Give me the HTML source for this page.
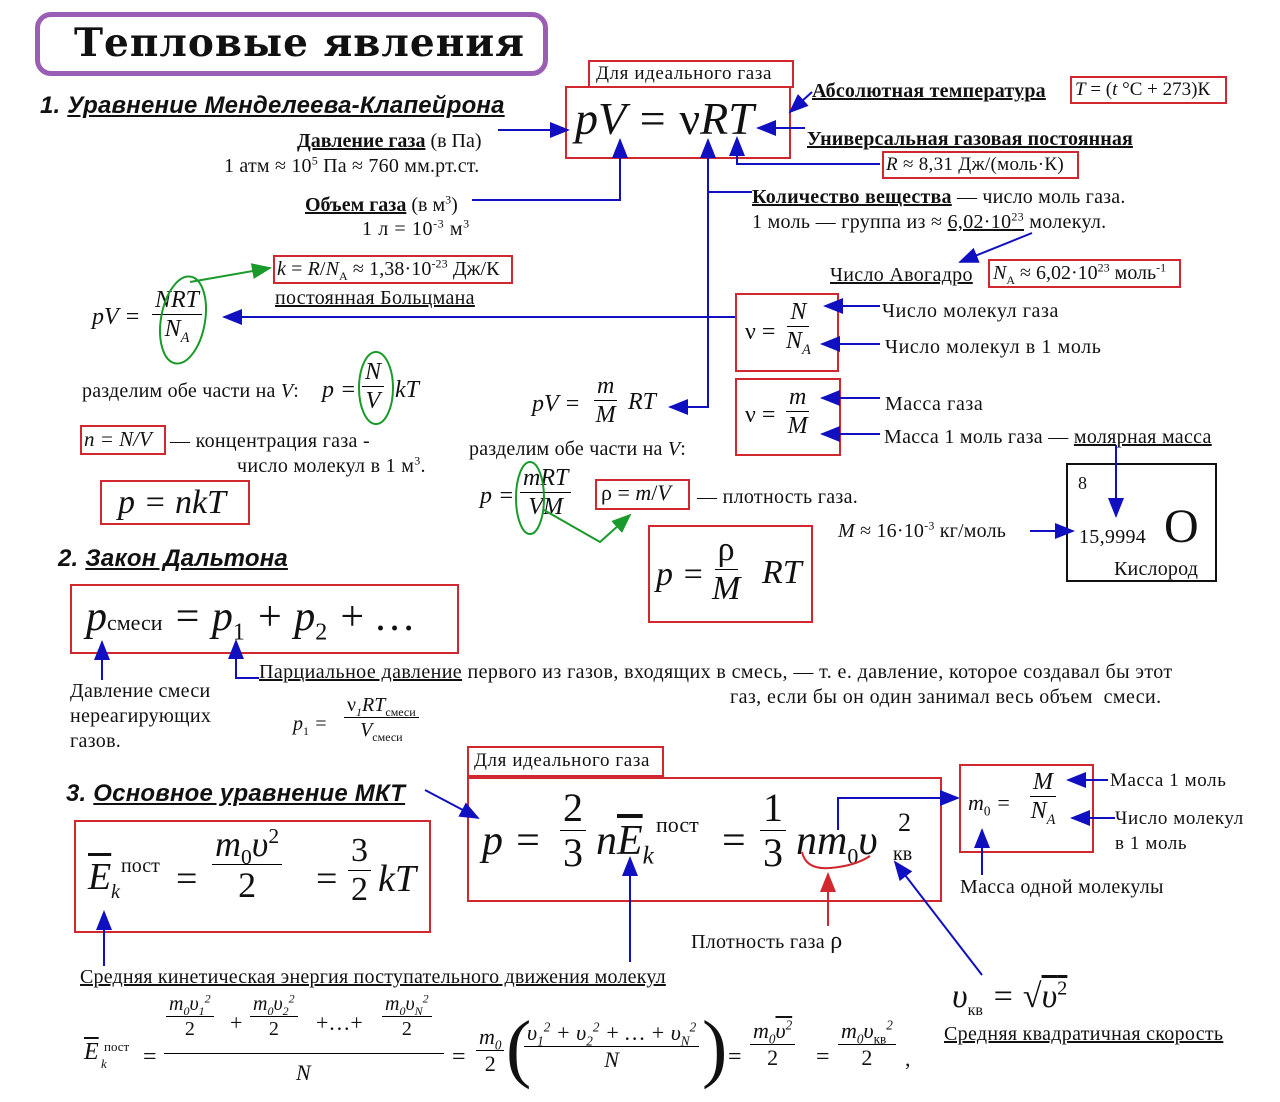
<!DOCTYPE html>
<html><head><meta charset="utf-8">
<style>
body{margin:0;background:#fff;width:1280px;height:1102px;position:relative;overflow:hidden;font-family:"Liberation Serif","DejaVu Serif",serif;color:#111}
.t{position:absolute;white-space:nowrap;line-height:1}
.s{font-size:20px;letter-spacing:0.6px}
.b{position:absolute;border:2px solid #d0282e;box-sizing:border-box}
.h{font-family:"Liberation Sans",sans-serif;font-weight:bold;font-style:italic;font-size:24px;letter-spacing:0.2px}
.u{text-decoration:underline}
.i{font-style:italic}
.fr{position:absolute;display:flex;flex-direction:column;align-items:center;line-height:1}
.fr>span:first-child{border-bottom:1.5px solid #000;padding:0 3px 2px}
.fr>span:last-child{padding-top:2px}
sub,sup{font-size:0.6em;line-height:0}
svg{position:absolute;left:0;top:0}
</style></head><body>

<!-- title -->
<div style="position:absolute;left:35px;top:12px;width:513px;height:64px;border:5px solid #9a5fb4;border-radius:16px;box-sizing:border-box"></div>
<div class="t" style="left:74px;top:24px;font-size:39px;font-weight:bold;font-family:'DejaVu Serif',serif;letter-spacing:1px">Тепловые явления</div>

<div class="t h" style="left:40px;top:94px">1. <span class="u">Уравнение Менделеева-Клапейрона</span></div>

<div class="b" style="left:588px;top:60px;width:206px;height:28px"></div>
<div class="t s" style="left:596px;top:64px;font-size:19px">Для идеального газа</div>
<div class="b" style="left:565px;top:86px;width:226px;height:73px"></div>
<div class="t i" style="left:575px;top:96px;font-size:46px">pV = <span style="font-style:normal">ν</span>RT</div>

<div class="t u s" style="left:812px;top:81px;font-weight:bold;letter-spacing:0.2px">Абсолютная температура</div>
<div class="b" style="left:1070px;top:76px;width:157px;height:28px"></div>
<div class="t" style="left:1075px;top:80px;font-size:19px"><i>T</i> = (<i>t</i> °С + 273)К</div>

<div class="t u s" style="left:807px;top:129px;font-weight:bold;letter-spacing:0.1px">Универсальная газовая постоянная</div>
<div class="b" style="left:882px;top:151px;width:197px;height:28px"></div>
<div class="t" style="left:886px;top:155px;font-size:19px;letter-spacing:0.3px"><i>R</i> ≈ 8,31 Дж/(моль·К)</div>

<div class="t s" style="left:297px;top:131px;letter-spacing:0"><b class="u">Давление газа</b> (в Па)</div>
<div class="t s" style="left:224px;top:156px;letter-spacing:0.2px">1 атм ≈ 10<sup>5</sup> Па ≈ 760 мм.рт.ст.</div>
<div class="t s" style="left:305px;top:195px;letter-spacing:0"><b class="u">Объем газа</b> (в м<sup>3</sup>)</div>
<div class="t s" style="left:362px;top:219px">1 л = 10<sup>-3</sup> м<sup>3</sup></div>

<div class="t s" style="left:752px;top:187px;letter-spacing:0.2px"><b class="u">Количество вещества</b> — число моль газа.</div>
<div class="t s" style="left:752px;top:212px;letter-spacing:0.3px">1 моль — группа из ≈ <span class="u">6,02·10<sup>23</sup></span> молекул.</div>

<div class="t u s" style="left:830px;top:265px;letter-spacing:0.3px">Число Авогадро</div>
<div class="b" style="left:988px;top:259px;width:193px;height:29px"></div>
<div class="t" style="left:993px;top:263px;font-size:20px"><i>N</i><sub>A</sub> ≈ 6,02·10<sup>23</sup> моль<sup>-1</sup></div>

<div class="b" style="left:273px;top:255px;width:240px;height:29px"></div>
<div class="t" style="left:277px;top:259px;font-size:20px;letter-spacing:0.1px"><i>k</i> = <i>R</i>/<i>N</i><sub>A</sub> ≈ 1,38·10<sup>-23</sup> Дж/К</div>
<div class="t u s" style="left:275px;top:288px;letter-spacing:0.3px">постоянная Больцмана</div>

<div class="t i" style="left:92px;top:305px;font-size:24px">pV =</div>
<div class="fr i" style="left:152px;top:288px;font-size:24px"><span>NRT</span><span>N<sub>A</sub></span></div>

<div class="b" style="left:735px;top:293px;width:104px;height:79px"></div>
<div class="t" style="left:745px;top:320px;font-size:24px">ν =</div>
<div class="fr i" style="left:786px;top:300px;font-size:24px"><span>N</span><span>N<sub>A</sub></span></div>
<div class="t s" style="left:882px;top:301px">Число молекул газа</div>
<div class="t s" style="left:885px;top:337px">Число молекул в 1 моль</div>

<div class="b" style="left:735px;top:378px;width:106px;height:78px"></div>
<div class="t" style="left:745px;top:403px;font-size:24px">ν =</div>
<div class="fr i" style="left:786px;top:385px;font-size:24px"><span>m</span><span>M</span></div>
<div class="t s" style="left:885px;top:394px">Масса газа</div>
<div class="t s" style="left:884px;top:427px;letter-spacing:0.3px">Масса 1 моль газа — <span class="u">молярная масса</span></div>

<div class="t s" style="left:82px;top:381px;letter-spacing:0.2px">разделим обе части на <i>V</i>:</div>
<div class="t i" style="left:322px;top:378px;font-size:24px">p =</div>
<div class="fr i" style="left:362px;top:360px;font-size:24px"><span>N</span><span>V</span></div>
<div class="t i" style="left:395px;top:378px;font-size:24px">kT</div>

<div class="b" style="left:80px;top:425px;width:86px;height:30px"></div>
<div class="t i" style="left:84px;top:429px;font-size:21px">n = N/V</div>
<div class="t s" style="left:170px;top:431px;letter-spacing:0.3px">— концентрация газа -</div>
<div class="t s" style="left:237px;top:456px;letter-spacing:0.3px">число молекул в 1 м<sup>3</sup>.</div>

<div class="b" style="left:100px;top:480px;width:150px;height:45px"></div>
<div class="t i" style="left:118px;top:486px;font-size:34px">p = nkT</div>

<div class="t i" style="left:532px;top:392px;font-size:24px">pV =</div>
<div class="fr i" style="left:594px;top:374px;font-size:24px"><span>m</span><span>M</span></div>
<div class="t i" style="left:628px;top:390px;font-size:24px">RT</div>
<div class="t s" style="left:469px;top:439px;letter-spacing:0.2px">разделим обе части на <i>V</i>:</div>
<div class="t i" style="left:480px;top:484px;font-size:24px">p =</div>
<div class="fr i" style="left:520px;top:466px;font-size:24px"><span>mRT</span><span>VM</span></div>
<div class="b" style="left:595px;top:479px;width:95px;height:31px"></div>
<div class="t" style="left:601px;top:482px;font-size:22px">ρ = <i>m</i>/<i>V</i></div>
<div class="t s" style="left:697px;top:487px;letter-spacing:0.3px">— плотность газа.</div>

<div class="b" style="left:648px;top:525px;width:165px;height:98px"></div>
<div class="t i" style="left:656px;top:558px;font-size:34px">p =</div>
<div class="fr i" style="left:712px;top:533px;font-size:34px"><span style="font-style:normal">ρ</span><span>M</span></div>
<div class="t i" style="left:762px;top:556px;font-size:34px">RT</div>

<div class="t s" style="left:838px;top:521px;letter-spacing:0.2px"><i>M</i> ≈ 16·10<sup>-3</sup> кг/моль</div>
<div style="position:absolute;left:1066px;top:463px;width:151px;height:119px;border:2px solid #111;box-sizing:border-box"></div>
<div class="t" style="left:1078px;top:474px;font-size:18px">8</div>
<div class="t s" style="left:1079px;top:527px;letter-spacing:0.3px">15,9994</div>
<div class="t" style="left:1164px;top:503px;font-size:48px">O</div>
<div class="t s" style="left:1114px;top:559px;letter-spacing:0.2px">Кислород</div>

<div class="t h" style="left:58px;top:547px">2. <span class="u">Закон Дальтона</span></div>
<div class="b" style="left:70px;top:584px;width:389px;height:70px"></div>
<div class="t i" style="left:86px;top:596px;font-size:42px">p<span style="font-style:normal;font-size:22px">смеси</span> = p<sub style="font-size:24px;font-style:normal">1</sub> + p<sub style="font-size:24px;font-style:normal">2</sub> + …</div>

<div class="t s" style="left:70px;top:679px;line-height:25px;letter-spacing:0.3px">Давление смеси<br>нереагирующих<br>газов.</div>
<div class="t s" style="left:259px;top:662px;letter-spacing:0.4px"><span class="u">Парциальное давление</span> первого из газов, входящих в смесь, — т. е. давление, которое создавал бы этот</div>
<div class="t s" style="left:730px;top:687px;letter-spacing:0.4px">газ, если бы он один занимал весь объем&nbsp; смеси.</div>
<div class="t i" style="left:293px;top:714px;font-size:20px">p<sub style="font-style:normal">1</sub> =</div>
<div class="fr i" style="left:344px;top:695px;font-size:20px"><span><span style="font-style:normal">ν</span><sub>1</sub>RT<sub style="font-style:normal">смеси</sub></span><span>V<sub style="font-style:normal">смеси</sub></span></div>

<div class="t h" style="left:66px;top:782px">3. <span class="u">Основное уравнение МКТ</span></div>
<div class="b" style="left:467px;top:746px;width:197px;height:31px"></div>
<div class="t s" style="left:474px;top:751px;font-size:19px">Для идеального газа</div>
<div class="b" style="left:467px;top:777px;width:475px;height:125px"></div>
<div class="t i" style="left:482px;top:820px;font-size:42px">p =</div>
<div class="fr" style="left:560px;top:788px;font-size:40px"><span>2</span><span>3</span></div>
<div class="t i" style="left:596px;top:820px;font-size:42px">n<span style="text-decoration:overline">E</span><sub>k</sub></div>
<div class="t" style="left:656px;top:814px;font-size:22px">пост</div>
<div class="t" style="left:722px;top:820px;font-size:42px">=</div>
<div class="fr" style="left:760px;top:788px;font-size:40px"><span>1</span><span>3</span></div>
<div class="t i" style="left:796px;top:820px;font-size:42px">nm<sub style="font-style:normal;font-size:22px">0</sub>υ</div>
<div class="t" style="left:898px;top:810px;font-size:26px">2</div>
<div class="t" style="left:893px;top:844px;font-size:20px">кв</div>

<div class="b" style="left:74px;top:820px;width:357px;height:113px"></div>
<div class="t i" style="left:88px;top:858px;font-size:38px;text-decoration:overline">E</div>
<div class="t" style="left:121px;top:856px;font-size:20px">пост</div>
<div class="t i" style="left:111px;top:882px;font-size:20px">k</div>
<div class="t" style="left:176px;top:860px;font-size:38px">=</div>
<div class="fr i" style="left:212px;top:826px;font-size:36px"><span>m<sub style="font-style:normal">0</sub>υ<sup style="font-style:normal">2</sup></span><span style="font-style:normal">2</span></div>
<div class="t" style="left:316px;top:860px;font-size:38px">=</div>
<div class="fr" style="left:348px;top:834px;font-size:34px"><span>3</span><span>2</span></div>
<div class="t i" style="left:378px;top:860px;font-size:38px">kT</div>

<div class="b" style="left:959px;top:764px;width:135px;height:89px"></div>
<div class="t i" style="left:968px;top:792px;font-size:22px">m<sub style="font-style:normal">0</sub> =</div>
<div class="fr i" style="left:1030px;top:770px;font-size:24px"><span>M</span><span>N<sub>A</sub></span></div>
<div class="t s" style="left:1110px;top:771px;font-size:19px">Масса 1 моль</div>
<div class="t s" style="left:1115px;top:806px;line-height:25px;font-size:19px">Число молекул<br>в 1 моль</div>
<div class="t s" style="left:960px;top:877px;letter-spacing:0.3px">Масса одной молекулы</div>
<div class="t s" style="left:691px;top:929px;letter-spacing:0.3px">Плотность газа <span style="font-size:24px">ρ</span></div>
<div class="t u s" style="left:80px;top:967px;letter-spacing:0.2px">Средняя кинетическая энергия поступательного движения молекул</div>

<div class="t i" style="left:952px;top:980px;font-size:34px">υ<sub style="font-style:normal;font-size:16px">кв</sub> = <span style="font-style:normal">√</span><span style="text-decoration:overline">υ<sup style="font-style:normal">2</sup></span></div>
<div class="t u s" style="left:944px;top:1024px;letter-spacing:0.3px">Средняя квадратичная скорость</div>

<!-- bottom formula -->
<div class="t i" style="left:84px;top:1040px;font-size:24px;text-decoration:overline">E</div>
<div class="t" style="left:104px;top:1040px;font-size:13px">пост</div>
<div class="t i" style="left:101px;top:1057px;font-size:13px">k</div>
<div class="t" style="left:143px;top:1045px;font-size:24px">=</div>
<div style="position:absolute;left:164px;top:1053px;width:280px;border-top:1.5px solid #000"></div>
<div class="fr i" style="left:166px;top:994px;font-size:20px"><span>m<sub>0</sub>υ<sub>1</sub><sup>2</sup></span><span style="font-style:normal">2</span></div>
<div class="t" style="left:230px;top:1012px;font-size:22px">+</div>
<div class="fr i" style="left:250px;top:994px;font-size:20px"><span>m<sub>0</sub>υ<sub>2</sub><sup>2</sup></span><span style="font-style:normal">2</span></div>
<div class="t" style="left:316px;top:1012px;font-size:22px">+…+</div>
<div class="fr i" style="left:382px;top:994px;font-size:20px"><span>m<sub>0</sub>υ<sub>N</sub><sup>2</sup></span><span style="font-style:normal">2</span></div>
<div class="t i" style="left:296px;top:1062px;font-size:22px">N</div>
<div class="t" style="left:452px;top:1045px;font-size:24px">=</div>
<div class="fr i" style="left:476px;top:1026px;font-size:22px"><span>m<sub>0</sub></span><span style="font-style:normal">2</span></div>
<div class="t" style="left:506px;top:1010px;font-size:76px;font-weight:100">(</div>
<div class="fr i" style="left:524px;top:1022px;font-size:22px"><span>υ<sub>1</sub><sup>2</sup> + υ<sub>2</sub><sup>2</sup> + … + υ<sub>N</sub><sup>2</sup></span><span>N</span></div>
<div class="t" style="left:702px;top:1010px;font-size:76px;font-weight:100">)</div>
<div class="t" style="left:728px;top:1045px;font-size:24px">=</div>
<div class="fr i" style="left:750px;top:1020px;font-size:22px"><span>m<sub>0</sub><span style="text-decoration:overline">υ<sup>2</sup></span></span><span style="font-style:normal">2</span></div>
<div class="t" style="left:816px;top:1045px;font-size:24px">=</div>
<div class="fr i" style="left:838px;top:1020px;font-size:22px"><span>m<sub>0</sub>υ<sub style="font-style:normal">кв</sub><sup>2</sup></span><span style="font-style:normal">2</span></div>
<div class="t" style="left:905px;top:1048px;font-size:22px">,</div>

<svg width="1280" height="1102">
<defs><marker id="a" markerWidth="10" markerHeight="8" refX="9" refY="4" orient="auto"><path d="M0,0L10,4L0,8z" fill="#1010c0"/></marker>
<marker id="g" markerWidth="10" markerHeight="8" refX="9" refY="4" orient="auto"><path d="M0,0L10,4L0,8z" fill="#1a9a2a"/></marker>
<marker id="r" markerWidth="10" markerHeight="8" refX="9" refY="4" orient="auto"><path d="M0,0L10,4L0,8z" fill="#d0282e"/></marker></defs>
<g stroke="#1010c0" stroke-width="2" fill="none" marker-end="url(#a)">
<path d="M498,130H568"/>
<path d="M472,200H620V140"/>
<path d="M812,92L790,112"/>
<path d="M805,128L758,128"/>
<path d="M880,164H737V138"/>
<path d="M752,192H708V140"/>
<path d="M1032,233L960,262"/>
<path d="M735,317H224"/>
<path d="M708,192V407H670"/>
<path d="M880,306H825"/>
<path d="M880,344H822"/>
<path d="M880,398H822"/>
<path d="M880,434H822"/>
<path d="M1116,445V516"/>
<path d="M1030,531H1073"/>
<path d="M102,680V642"/>
<path d="M259,678H236V641"/>
<path d="M425,790L478,818"/>
<path d="M838,830V798H958"/>
<path d="M1108,780H1068"/>
<path d="M1115,818H1072"/>
<path d="M982,875V830"/>
<path d="M630,962V858"/>
<path d="M104,966V912"/>
<path d="M982,975L895,862"/>
</g>
<g stroke="#1a9a2a" stroke-width="2" fill="none">
<path d="M190,282L270,268" marker-end="url(#g)"/>
<ellipse cx="183" cy="320" rx="22" ry="44" transform="rotate(10 183 320)"/>
<ellipse cx="376" cy="388" rx="17" ry="36"/>
<ellipse cx="530" cy="498" rx="14" ry="36"/>
<path d="M544,510L600,542L630,515" marker-end="url(#g)"/>
</g>
<g stroke="#d0282e" stroke-width="2" fill="none">
<path d="M802,852Q806,870 830,868Q855,866 870,856"/>
<path d="M828,926V874" marker-end="url(#r)"/>
</g>
</svg>
</body></html>
